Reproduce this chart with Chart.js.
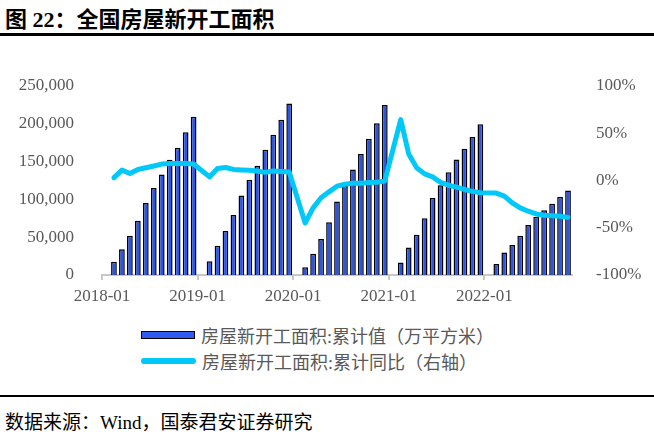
<!DOCTYPE html>
<html>
<head>
<meta charset="utf-8">
<script src="https://cdn.jsdelivr.net/npm/chart.js@4.4.0/dist/chart.umd.min.js"></script>
<style>
  body { margin: 0; width: 654px; height: 436px; background: #fff; position: relative; overflow: hidden; }
  .title { position: absolute; left: 5px; top: 1px; line-height: 30px; font: bold 22px "Liberation Serif", "Noto Sans CJK SC", serif; color: #000; white-space: pre; }
  .rule-top { position: absolute; left: 0; top: 33px; width: 654px; height: 3px; background: #000; }
  .box { position: absolute; left: 0; top: 40px; width: 654px; height: 270px; }
  .legend { position: absolute; left: 141px; top: 322px; font: 18px "Liberation Serif", "Noto Sans CJK SC", serif; color: #595959; }
  .legend div { height: 26px; display: flex; align-items: center; }
  .legend .bar { width: 52px; height: 6px; background: #2f5cf0; border: 1.5px solid #000; margin-right: 6px; }
  .legend .line { width: 55px; height: 6px; border-radius: 3px; background: #00c8f8; margin-right: 6px; }
  .rule-bot { position: absolute; left: 0; top: 395px; width: 654px; height: 2px; background: #000; }
  .source { position: absolute; left: 5px; top: 407px; line-height: 24px; font: 19px "Liberation Serif", "Noto Sans CJK SC", serif; color: #000; }
</style>
</head>
<body>
<div class="title">图 22：全国房屋新开工面积</div>
<div class="rule-top"></div>
<div class="box"><canvas id="myChart" width="654" height="270"></canvas></div>
<div class="legend">
  <div><span class="bar"></span>房屋新开工面积:累计值（万平方米）</div>
  <div><span class="line"></span>房屋新开工面积:累计同比（右轴）</div>
</div>
<div class="rule-bot"></div>
<div class="source">数据来源：Wind，国泰君安证券研究</div>

<script>
// months 2018-01 .. 2022-11 (Jan not published, Jan-Feb combined)
const months = []
for (let y = 2018; y <= 2022; y++) {
    for (let m = 1; m <= 12; m++) {
        if (y === 2022 && m > 11) break
        months.push(y + '-' + String(m).padStart(2, '0'))
    }
}

// cumulative new starts, 10k m2
const area = [
    null, 17600, 34000, 51800, 71700, 95300, 115000, 133100, 152300, 168400, 188800, 209200,
    null, 18300, 38600, 58200, 79500, 105300, 125900, 144600, 165600, 185600, 205200, 226900,
    null, 10300, 28000, 47600, 69700, 97300, 117800, 139500, 159900, 180300, 200800, 224800,
    null, 16400, 36400, 53300, 75000, 101700, 118600, 135900, 152800, 167000, 182600, 199500,
    null, 14700, 29700, 39600, 52000, 66200, 76900, 85700, 94200, 103500, 111900
]

// cumulative yoy, %
const yoy = [
    null, 3, 11, 7.4, 11.7, 13.5, 15.3, 17.4, 18.1, 18, 18, 17.4,
    null, 3.8, 12.7, 13.8, 11.7, 11.2, 10.8, 10, 8.6, 10, 9.5, 9,
    null, -45, -29, -18.3, -12, -6, -4, -3, -2.8, -2, -1.8, -0.5,
    null, 64.5, 28, 13.5, 7, 3.8, -2, -5, -7, -9.5, -11.5, -12.9,
    null, -13.3, -16.5, -23.6, -29, -32.5, -35.4, -36.8, -37.3, -37.9, -39
]

const xTickLabels = ['2018-01', '2019-01', '2020-01', '2021-01', '2022-01']
const leftTicks = [0, 50000, 100000, 150000, 200000, 250000]
const rightTicks = [-100, -50, 0, 50, 100]

const tickFont = { family: '"Liberation Serif", serif', size: 17 }
const tickColor = '#595959'

new Chart(document.getElementById('myChart'), {
    data: {
        labels: months,
        datasets: [{
            type: 'line',
            label: '房屋新开工面积:累计同比（右轴）',
            data: yoy,
            yAxisID: 'y2',
            borderColor: '#00c8f8',
            borderWidth: 5,
            pointRadius: 0,
            tension: 0,
            spanGaps: true,
            borderJoinStyle: 'round',
            borderCapStyle: 'round',
        },
        {
            type: 'bar',
            label: '房屋新开工面积:累计值（万平方米）',
            data: area,
            yAxisID: 'y',
            backgroundColor: '#2a55e8',
            borderColor: '#000',
            borderWidth: 1.5,
            barPercentage: 0.72,
            categoryPercentage: 1,
        }],
    },
    options: {
        responsive: false,
        animation: false,
        layout: { padding: { top: 46, bottom: 0, left: 0, right: 0 } },
        scales: {
            x: {
                type: 'category',
                offset: true,
                afterFit: s => { s.height = 35 },
                ticks: {
                    font: tickFont,
                    color: tickColor,
                    padding: 6,
                    maxRotation: 0,
                    autoSkip: false,
                    labelOffset: -4,
                    callback: (v, i) => xTickLabels.includes(months[i]) ? months[i] : ''
                },
                grid: {
                    offset: true,
                    drawOnChartArea: false,
                    drawTicks: true,
                    tickLength: 5,
                    lineWidth: 2,
                    color: ctx => (ctx.index % 12 === 0 ? '#c8c8c8' : 'rgba(0,0,0,0)')
                },
                border: { color: '#c8c8c8', width: 2 }
            },
            y: {
                position: 'left',
                min: 0,
                max: 250000,
                afterBuildTicks: s => { s.ticks = leftTicks.map(v => ({ value: v })) },
                afterFit: s => { s.width = 102 },
                ticks: {
                    font: tickFont,
                    color: tickColor,
                    padding: 20,
                    callback: v => v.toLocaleString('en-US')
                },
                grid: { display: false },
                border: { display: false }
            },
            y2: {
                position: 'right',
                min: -100,
                max: 100,
                afterBuildTicks: s => { s.ticks = rightTicks.map(v => ({ value: v })) },
                afterFit: s => { s.width = 82 },
                ticks: {
                    font: tickFont,
                    color: tickColor,
                    padding: 16,
                    callback: v => v + '%'
                },
                grid: { display: false },
                border: { display: false }
            }
        },
        plugins: {
            legend: { display: false },
            tooltip: { enabled: false }
        }
    }
});
</script>
</body>
</html>
